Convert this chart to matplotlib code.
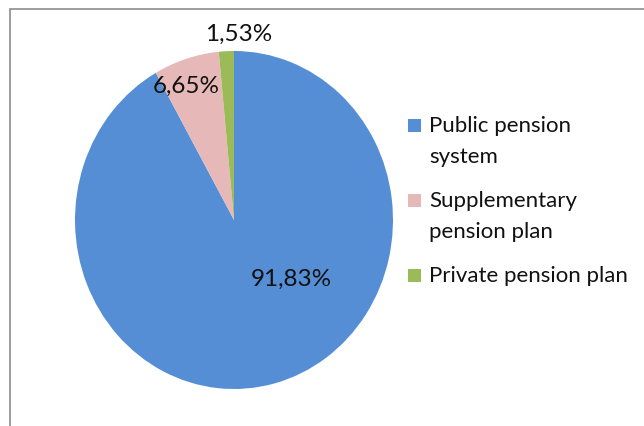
import matplotlib.pyplot as plt
from matplotlib.patches import Rectangle

plt.rcParams['font.family'] = ['Lato', 'DejaVu Sans']

labels = ['Public pension\nsystem', 'Supplementary\npension plan', 'Private pension plan']
shares = [91.83, 6.65, 1.53]
colors = ['#558ED5', '#E6B9B8', '#9BBB59']

# where excel put the value labels (axes data units, pie radius = 1)
label_pos = [(0.36, -0.35), (-0.30, 0.79), (0.03, 1.10)]

W, H = 644, 426
fig = plt.figure(figsize=(W / 100, H / 100), dpi=100)

# chart area border
fig.patches.append(Rectangle((10 / W, -0.01), 1.0, (H - 9) / H + 0.01,
                             transform=fig.transFigure, fill=False,
                             edgecolor='#8c8c8c', linewidth=1.2))

cx, cy, rx, ry = 234, 206, 159, 169
ax = fig.add_axes([(cx - rx) / W, (cy - ry) / H, 2 * rx / W, 2 * ry / H])
wedges, _ = ax.pie(shares, colors=colors, startangle=90, counterclock=False,
                   radius=1, wedgeprops=dict(linewidth=0))
ax.set_aspect('auto')
ax.set_xlim(-1, 1)
ax.set_ylim(-1, 1)
ax.axis('off')

for v, (x, y) in zip(shares, label_pos):
    ax.text(x, y, f"{v:.2f}%".replace('.', ','), ha='center', va='center',
            fontsize=17.5, color='#111111', clip_on=False)

# legend drawn by hand, excel style: square on first line of each entry
for i, (lab, c) in enumerate(zip(labels, colors)):
    base = 132 + 75 * i
    fig.patches.append(Rectangle((408 / W, (H - base) / H), 13 / W, 13 / H,
                                 transform=fig.transFigure, facecolor=c,
                                 edgecolor='none'))
    for j, line in enumerate(lab.split('\n')):
        fig.text(429 / W, (H - base - 31 * j) / H, line, ha='left',
                 va='baseline', fontsize=16, color='#111111')

fig.savefig('out.png', dpi=100)
